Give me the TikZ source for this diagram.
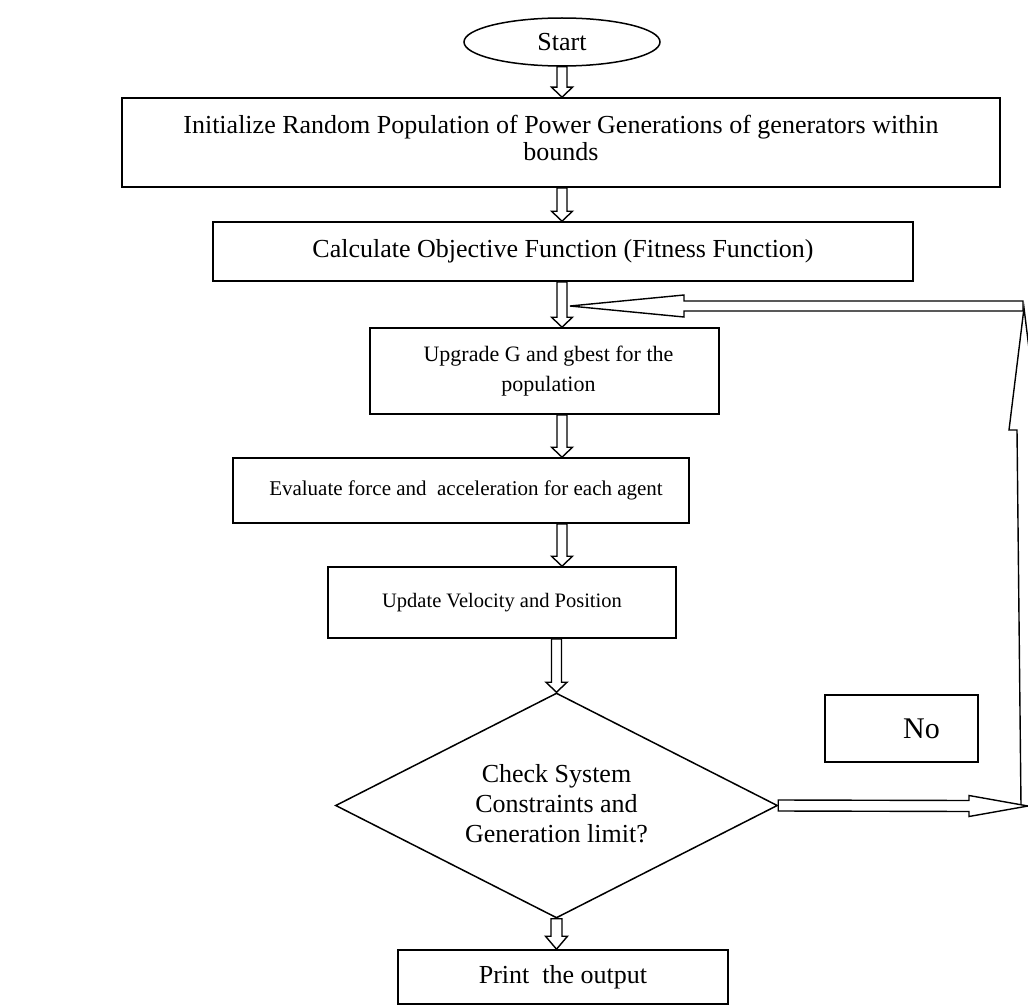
\documentclass[tikz,border=0pt]{standalone}
\usepackage{fontspec}
\setmainfont{Liberation Serif}
\usetikzlibrary{calc,shapes.geometric}
\tikzset{
  every node/.style={font=\fontsize{26}{30}\selectfont},
  boxnode/.style={draw, line width=1.6pt, rectangle, inner sep=0pt, align=center},
  smalltext/.style={font=\fontsize{22}{30}\selectfont},
  harrow/.style={draw, fill=white, line width=1.4pt, line join=miter},
}
% hollow arrows: #1 from, #2 to (tip), #3 shaft half width, #4 head half width, #5 head length
\newcommand\hdown[5]{\path[harrow] ($(#1)+(-#3,0)$) -- ($(#2)+(-#3,-#5)$) -- ($(#2)+(-#4,-#5)$) -- (#2) -- ($(#2)+(#4,-#5)$) -- ($(#2)+(#3,-#5)$) -- ($(#1)+(#3,0)$) -- cycle;}
\newcommand\hup[5]{\path[harrow] ($(#1)+(-#3,0)$) -- ($(#2)+(-#3,#5)$) -- ($(#2)+(-#4,#5)$) -- (#2) -- ($(#2)+(#4,#5)$) -- ($(#2)+(#3,#5)$) -- ($(#1)+(#3,0)$) -- cycle;}
\newcommand\hright[5]{\path[harrow] ($(#1)+(0,-#3)$) -- ($(#2)+(-#5,-#3)$) -- ($(#2)+(-#5,-#4)$) -- (#2) -- ($(#2)+(-#5,#4)$) -- ($(#2)+(-#5,#3)$) -- ($(#1)+(0,#3)$) -- cycle;}
\newcommand\hleft[5]{\path[harrow] ($(#1)+(0,-#3)$) -- ($(#2)+(#5,-#3)$) -- ($(#2)+(#5,-#4)$) -- (#2) -- ($(#2)+(#5,#4)$) -- ($(#2)+(#5,#3)$) -- ($(#1)+(0,#3)$) -- cycle;}
\begin{document}
\begin{tikzpicture}[x=1pt,y=-1pt]
\useasboundingbox (0,0) rectangle (1028,1006);
\clip (0,0) rectangle (1028,1006);
\fill[white] (0,0) rectangle (1028,1006);

\node[draw, line width=1.5pt, ellipse, minimum width=196pt, minimum height=48pt, inner sep=0pt] (start) at (562,42) {Start};
\node[boxnode, minimum width=878pt, minimum height=89pt,
  label={[align=center, font=\fontsize{26}{27}\selectfont, yshift=5pt]center:Initialize Random Population of Power Generations of generators within\\bounds}] (box1) at (561,142.5) {};
\node[boxnode, minimum width=700pt, minimum height=59pt] (box2) at (563,251.5)
  {Calculate Objective Function (Fitness Function)};
\node[boxnode, smalltext, minimum width=349pt, minimum height=86pt] (box3) at (544.5,371)
  {\hspace*{8pt}Upgrade G and gbest for the\\\hspace*{8pt}population};
\node[boxnode, font=\fontsize{21}{30}\selectfont, minimum width=456pt, minimum height=65pt] (box4) at (461,490.5)
  {\hspace*{10pt}Evaluate force and\ \ acceleration for each agent};
\node[boxnode, font=\fontsize{20.5}{30}\selectfont, minimum width=348pt, minimum height=71pt] (box5) at (502,602.5)
  {Update Velocity and Position};
\node[draw, line width=1.5pt, diamond, minimum width=442pt, minimum height=225pt, inner sep=0pt,
  label={[align=center, yshift=2pt]center:Check System\\Constraints and\\Generation limit?}] (dia) at (556.5,805.5) {};
\node[boxnode, minimum width=330pt, minimum height=54pt] (box6) at (563,977)
  {Print\ \ the output};
\node[boxnode, minimum width=153pt, minimum height=67pt, font=\fontsize{30}{34}\selectfont] (nobox) at (901.5,728.5)
  {\hspace*{40pt}No};

\coordinate (ax) at (562,0);
\coordinate (c1) at (1028,806);
\coordinate (c2) at (1024,308);
\coordinate (c3) at (1023,306);
\coordinate (fb) at (570,306);

\hdown{start.south -| ax}{box1.north -| ax}{5}{10.5}{10}
\hdown{box1.south -| ax}{box2.north -| ax}{5}{10.5}{10}
\hdown{box2.south -| ax}{box3.north -| ax}{5}{10.5}{10}
\hdown{box3.south -| ax}{box4.north -| ax}{5}{10.5}{10}
\hdown{box4.south -| ax}{box5.north -| ax}{5}{10.5}{10}
\hdown{box5.south -| dia.north}{dia.north}{5}{10.5}{10}
\hdown{dia.south}{box6.north -| dia.south}{5.5}{11}{13}

\hup{c1}{c2}{7}{15}{122}
\hright{dia.east}{c1}{5.5}{10.5}{59}
\hleft{c3}{fb}{5}{11}{114}
\end{tikzpicture}
\end{document}
